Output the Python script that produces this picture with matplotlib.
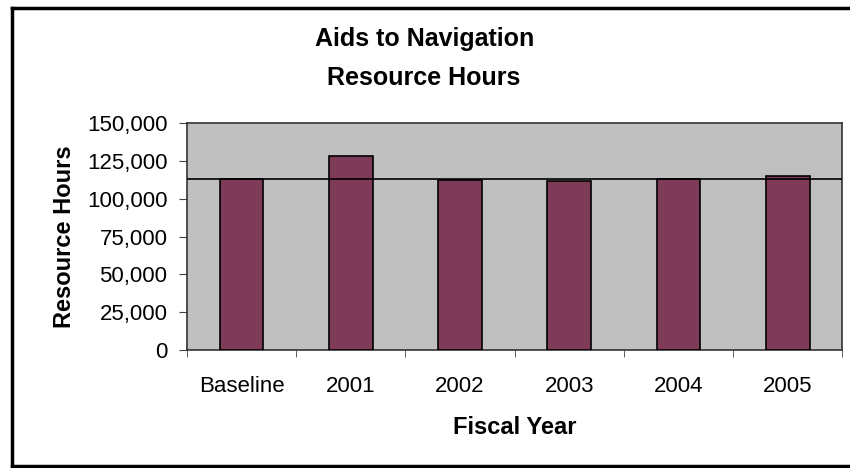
import matplotlib.pyplot as plt
import matplotlib.ticker as mticker
from matplotlib.lines import Line2D
import numpy as np

plt.rcParams['font.family'] = ['Liberation Sans', 'DejaVu Sans']

categories = ["Baseline", "2001", "2002", "2003", "2004", "2005"]
hours = [113000, 128500, 112500, 111500, 113300, 115000]
baseline_value = 113000
y_ticks = [0, 25000, 50000, 75000, 100000, 125000, 150000]

fig = plt.figure(figsize=(8.5, 4.68), dpi=100)
ax = fig.add_axes([0.22, 0.252, 0.771, 0.485])

x = np.arange(len(categories))
ax.bar(x, hours, width=0.4, color="#7E3A56", edgecolor="black", linewidth=1.2, zorder=3)
ax.axhline(baseline_value, color="black", linewidth=1.2, zorder=4)

ax.set_facecolor("#C0C0C0")
ax.set_xlim(-0.5, len(categories) - 0.5)
ax.set_ylim(0, 150000)
ax.set_yticks(y_ticks)
ax.yaxis.set_major_formatter(mticker.FuncFormatter(lambda v, p: f"{int(v):,}"))

ax.set_xticks(x)
ax.set_xticklabels(categories)
ax.set_xticks(np.arange(len(categories) + 1) - 0.5, minor=True)
ax.tick_params(axis="x", which="major", length=0, pad=19, labelsize=16)
ax.tick_params(axis="x", which="minor", length=5, direction="out", color="#444444")
ax.tick_params(axis="y", length=6, direction="out", labelsize=16, pad=8, color="#444444")

for s in ax.spines.values():
    s.set_color("#333333")
    s.set_linewidth(1.2)

ax.set_ylabel("Resource Hours", fontsize=17, fontweight="bold", labelpad=8)
ax.set_xlabel("Fiscal Year", fontsize=17, fontweight="bold", labelpad=13)

fig.text(0.499, 0.875, "Aids to Navigation\nResource Hours", ha="center", va="center",
         fontsize=18, fontweight="bold", linespacing=1.75)

# outer frame (left, top, bottom only; right side cut off)
left_x, top_y, bot_y = 12 / 850, 1 - 8 / 468, 1 - 466 / 468
fig.add_artist(Line2D([left_x, left_x], [bot_y, top_y], color="black", linewidth=2.5))
fig.add_artist(Line2D([left_x, 1.0], [top_y, top_y], color="black", linewidth=2.5))
fig.add_artist(Line2D([left_x, 1.0], [bot_y, bot_y], color="black", linewidth=2.5))

fig.savefig("out.png", dpi=100)
